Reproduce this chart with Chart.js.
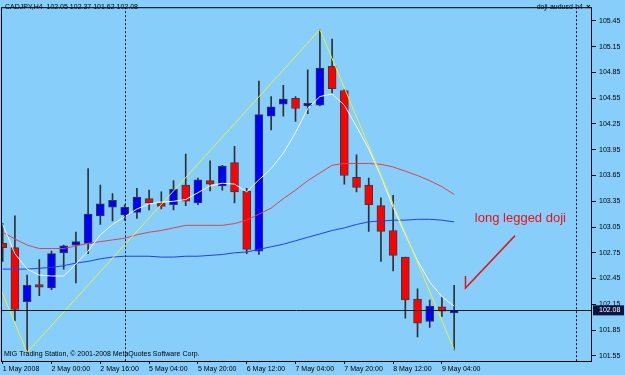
<!DOCTYPE html>
<html><head><meta charset="utf-8">
<script src="https://cdn.jsdelivr.net/npm/chart.js@4/dist/chart.umd.min.js"></script>
<style>html,body{margin:0;padding:0;background:#87CEFA;overflow:hidden}canvas{display:block}</style>
</head><body>
<canvas id="c" width="625" height="375"></canvas>
<script>
// ---- data (CADJPY, H4) ----
const symbol = "CADJPY,H4";
const barIndex = [0,1,2,3,4,5,6,7,8,9,10,11,12,13,14,15,16,17,18,19,20,21,22,23,24,25,26,27,28,29,30,31,32,33,34,35,36,37];
const openP  = [102.86,102.81,102.18,102.38,102.34,102.75,102.84,102.86,103.18,103.28,103.19,103.22,103.38,103.33,103.31,103.54,103.33,103.59,103.53,103.80,103.47,102.77,104.34,104.48,104.55,104.46,104.47,104.92,104.64,103.63,103.54,103.30,103.01,102.70,102.21,101.95,102.12,102.05];
const highP  = [103.09,103.18,102.49,102.67,102.77,102.84,102.99,103.73,103.54,103.44,103.31,103.50,103.48,103.46,103.59,103.90,103.62,103.82,103.77,103.99,103.50,104.75,104.57,104.70,104.57,104.88,105.35,105.24,104.65,103.89,103.62,103.39,103.42,102.70,102.33,102.20,102.23,102.37];
const lowP   = [102.65,101.96,101.59,102.25,102.32,102.56,102.40,102.74,103.08,103.12,103.13,103.15,103.25,103.26,103.25,103.30,103.31,103.47,103.48,103.33,102.74,102.73,104.18,104.34,104.28,104.37,104.46,104.61,103.55,103.46,103.00,102.65,102.54,101.99,101.77,101.88,102.01,101.62];
const closeP = [102.81,102.09,102.37,102.35,102.74,102.83,102.88,103.20,103.32,103.36,103.28,103.40,103.33,103.29,103.49,103.35,103.60,103.55,103.76,103.46,102.79,104.36,104.45,104.54,104.43,104.49,104.90,104.66,103.65,103.51,103.31,103.00,102.72,102.20,101.93,102.13,102.07,102.08];
const fastMA = [103.08,102.74,102.56,102.49,102.48,102.48,102.62,102.77,102.96,103.08,103.17,103.26,103.32,103.34,103.35,103.37,103.45,103.53,103.56,103.55,103.46,103.60,103.73,103.91,104.15,104.43,104.57,104.60,104.47,104.22,103.96,103.64,103.28,102.96,102.66,102.41,102.24,102.13];
const midMA  = [102.99,102.91,102.84,102.80,102.80,102.80,102.83,102.86,102.88,102.90,102.92,102.96,102.99,103.01,103.04,103.07,103.07,103.07,103.07,103.09,103.13,103.20,103.27,103.38,103.48,103.59,103.68,103.77,103.79,103.79,103.79,103.78,103.75,103.70,103.65,103.59,103.52,103.43];
const slowMA = [102.56,102.56,102.56,102.57,102.58,102.60,102.63,102.65,102.68,102.70,102.71,102.71,102.71,102.70,102.70,102.71,102.71,102.72,102.73,102.75,102.76,102.79,102.82,102.85,102.89,102.93,102.97,103.01,103.04,103.08,103.11,103.12,103.13,103.13,103.14,103.14,103.13,103.11];
const zigzagX = [-0.14, 2, 26, 37];
const zigzagY = [102.32, 101.59, 105.35, 101.62];
const arrowX = [37.93, 37.93, 41.99];
const arrowY = [102.48, 102.34, 102.95];
const noteText = "long legged doji";
const noteX = 38.7, noteY = 103.11;
const separatorX = [10, 47];
const xTickIndex  = [0,4,8,12,16,20,24,28,32,36];
const xTickLabels = ["1 May 2008","2 May 00:00","2 May 16:00","5 May 04:00","5 May 20:00","6 May 12:00","7 May 04:00","7 May 20:00","8 May 12:00","9 May 04:00"];
const yTickValues = [101.55,101.85,102.15,102.45,102.75,103.05,103.35,103.65,103.95,104.25,104.55,104.85,105.15,105.45];

const BG = '#87CEFA';
const FONT = 'Liberation Sans';
const last = barIndex.length - 1;

const bgPlugin = {
  id: 'mt4',
  beforeDraw(chart) {
    const c = chart.ctx; c.save(); c.fillStyle = BG; c.fillRect(0, 0, chart.width, chart.height); c.restore();
  },
  afterDatasetsDraw(chart) {
    const c = chart.ctx, a = chart.chartArea, xs = chart.scales.x, ys = chart.scales.y;
    c.save();
    // separators
    c.strokeStyle = '#111'; c.lineWidth = 1; c.setLineDash([2, 2]);
    separatorX.forEach(v => {
      const px = Math.round(xs.getPixelForValue(v)) + 0.5;
      c.beginPath(); c.moveTo(px, a.top); c.lineTo(px, a.bottom); c.stroke();
    });
    c.setLineDash([]);
    // bid line
    const py = Math.round(ys.getPixelForValue(closeP[last])) + 0.5;
    c.strokeStyle = '#1a1a1a';
    c.beginPath(); c.moveTo(a.left, py); c.lineTo(a.right, py); c.stroke();
    // border
    c.strokeStyle = '#000';
    c.strokeRect(a.left + 0.5, a.top + 0.5, a.right - a.left - 1, a.bottom - a.top);
    c.restore();
  },
  afterDraw(chart) {
    const c = chart.ctx, a = chart.chartArea, xs = chart.scales.x, ys = chart.scales.y;
    c.save();
    c.fillStyle = '#000'; c.font = '7px "' + FONT + '"'; c.textBaseline = 'middle'; c.textAlign = 'left';
    c.fillText(symbol + '  ' + [openP[last], highP[last], lowP[last], closeP[last]].map(v => v.toFixed(2)).join(' '), 5, 7);
    c.fillText('MIG Trading Station, \u00A9 2001-2008 MetaQuotes Software Corp.', 4, 354);
    c.textAlign = 'right';
    c.fillText('doji-audusd-h4', 583, 7);
    c.font = 'bold 8px "' + FONT + '"'; c.textAlign = 'left';
    c.fillText('\u00D7', 586, 7);
    // price box
    const py = ys.getPixelForValue(closeP[last]);
    c.fillStyle = '#0c1440';
    c.fillRect(a.right + 1, py - 5, 31, 10);
    c.fillStyle = '#fff'; c.font = '7px "' + FONT + '"'; c.textAlign = 'left';
    c.fillText(closeP[last].toFixed(2), a.right + 7, py);
    // note
    c.fillStyle = '#E81414'; c.font = '13px "' + FONT + '"'; c.textBaseline = 'alphabetic';
    c.fillText(noteText, xs.getPixelForValue(noteX), ys.getPixelForValue(noteY));
    c.restore();
  }
};

const line = (data, color, order) => ({
  type: 'line', data, borderColor: color, borderWidth: 1, pointRadius: 0, tension: 0, order, fill: false
});

new Chart(document.getElementById('c'), {
  type: 'bar',
  data: {
    datasets: [
      { type: 'bar', data: barIndex.map(i => ({x: i, y: [lowP[i], highP[i]]})), backgroundColor: '#303030',
        borderWidth: 0, barThickness: 1, barPercentage: 1, categoryPercentage: 1, grouped: false, order: 6 },
      { type: 'bar', data: barIndex.map(i => ({x: i, y: [openP[i], closeP[i]]})),
        backgroundColor: barIndex.map(i => closeP[i] >= openP[i] ? '#0000FF' : '#FF0000'),
        borderColor: '#3a3a3a', borderWidth: 1, borderSkipped: false, barThickness: 8, barPercentage: 1,
        categoryPercentage: 1, grouped: false, order: 5 },
      line(barIndex.map(i => ({x: i, y: slowMA[i]})), '#2040F0', 4),
      line(barIndex.map(i => ({x: i, y: midMA[i]})), '#E4404A', 3),
      line(barIndex.map(i => ({x: i, y: fastMA[i]})), '#F4F8FF', 2),
      line(zigzagX.map((v, i) => ({x: v, y: zigzagY[i]})), '#EAF040', 1),
      Object.assign(line(arrowX.map((v, i) => ({x: v, y: arrowY[i]})), '#E81414', 0), {borderWidth: 1.5})
    ]
  },
  options: {
    responsive: false, animation: false, devicePixelRatio: 1,
    layout: { padding: { left: 1, top: 1, right: 0, bottom: 0 } },
    plugins: { legend: { display: false }, tooltip: { enabled: false } },
    scales: {
      x: {
        type: 'linear', min: -0.14, max: 48.3, offset: false,
        afterBuildTicks: s => { s.ticks = xTickIndex.map(v => ({value: v})); },
        afterFit: s => { s.height = 14; },
        grid: { display: true, drawOnChartArea: false, drawTicks: true, tickLength: 3, color: '#000', offset: false },
        border: { display: false },
        ticks: { autoSkip: false, maxRotation: 0, minRotation: 0, align: 'start', padding: 1, color: '#000',
          font: { family: FONT, size: 7 },
          callback: v => { const i = xTickIndex.indexOf(v); return i >= 0 ? xTickLabels[i] : ''; } }
      },
      y: {
        type: 'linear', position: 'right', min: 101.49, max: 105.61, beginAtZero: false,
        afterBuildTicks: s => { s.ticks = yTickValues.map(v => ({value: v})); },
        afterFit: s => { s.width = 33; },
        grid: { display: true, drawOnChartArea: false, drawTicks: true, tickLength: 4, color: '#000' },
        border: { display: false },
        ticks: { padding: 3, color: '#000', font: { family: FONT, size: 7 }, callback: v => Number(v).toFixed(2) }
      }
    }
  },
  plugins: [bgPlugin]
});
</script>
</body></html>
